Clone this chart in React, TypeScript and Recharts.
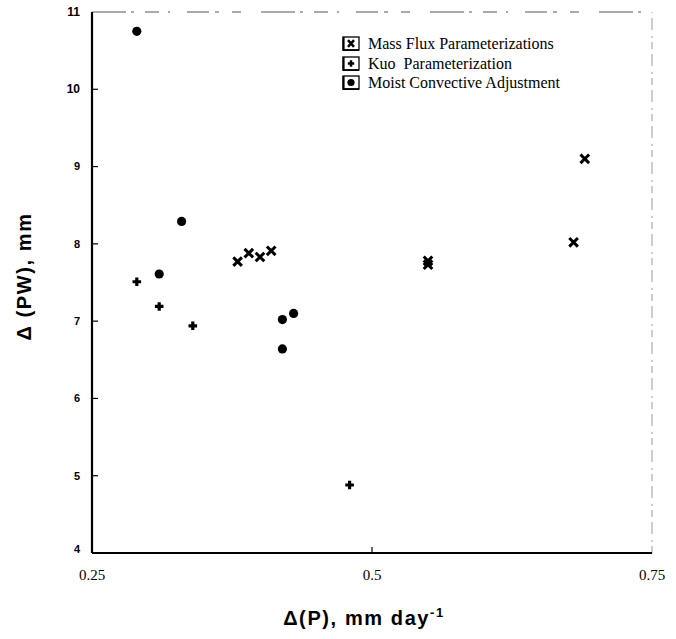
import { ScatterChart, Scatter, XAxis, YAxis, Legend, Label, ReferenceLine } from "recharts";

// Δ(P) in mm/day against Δ(PW) in mm, one pair of arrays per scheme
const massFluxP = [0.38, 0.39, 0.4, 0.41, 0.55, 0.55, 0.68, 0.69];
const massFluxPW = [7.77, 7.88, 7.83, 7.91, 7.78, 7.73, 8.02, 9.1];

const kuoP = [0.29, 0.31, 0.34, 0.48];
const kuoPW = [7.51, 7.19, 6.94, 4.88];

const moistP = [0.29, 0.31, 0.33, 0.42, 0.43, 0.42];
const moistPW = [10.75, 7.61, 8.29, 7.02, 7.1, 6.64];

const xTicks = [0.25, 0.5, 0.75];
const yTicks = [4, 5, 6, 7, 8, 9, 10, 11];

const schemeNames = [
  "Mass Flux Parameterizations",
  "Kuo  Parameterization",
  "Moist Convective Adjustment",
];

const toPoints = (xs: number[], ys: number[]) => xs.map((p, i) => ({ p, pw: ys[i] }));

const massFlux = toPoints(massFluxP, massFluxPW);
const kuo = toPoints(kuoP, kuoPW);
const moist = toPoints(moistP, moistPW);

const SANS = "'Liberation Sans', Arial, Helvetica, sans-serif";
const SERIF = "'Liberation Serif', 'Times New Roman', serif";

function CrossMark({ cx, cy }: any) {
  const s = 4.3;
  return (
    <path
      d={`M${cx - s},${cy - s}L${cx + s},${cy + s}M${cx + s},${cy - s}L${cx - s},${cy + s}`}
      stroke="#000"
      strokeWidth={3}
    />
  );
}

function PlusMark({ cx, cy }: any) {
  const s = 4.3;
  return (
    <path
      d={`M${cx - s},${cy}L${cx + s},${cy}M${cx},${cy - s}L${cx},${cy + s}`}
      stroke="#000"
      strokeWidth={3.2}
    />
  );
}

function DotMark({ cx, cy }: any) {
  return <circle cx={cx} cy={cy} r={4.6} fill="#000" />;
}

// tick text sits 12px left of the axis; the inward tick runs 6px right of it
function YTick({ x, y, payload }: any) {
  const v = payload.value;
  const big = v >= 10;
  return (
    <g>
      {v > 4 && v < 11 && <line x1={x + 12} x2={x + 18} y1={y} y2={y} stroke="#000" strokeWidth={1.2} />}
      <text
        x={x}
        y={v === 4 ? y - 4 : y}
        dy="0.35em"
        textAnchor="end"
        fontFamily={SANS}
        fontWeight="bold"
        fontSize={big ? 12 : 11}
        fill="#000"
      >
        {v}
      </text>
    </g>
  );
}

function XTick({ x, y, payload }: any) {
  const v = payload.value;
  return (
    <g>
      {v === 0.5 && <line x1={x} x2={x} y1={y - 15} y2={y - 21} stroke="#000" strokeWidth={1.2} />}
      <text x={x} y={y} dy="0.8em" textAnchor="middle" fontFamily={SERIF} fontSize={15} fill="#000">
        {v}
      </text>
    </g>
  );
}

function LegendBox({ kind }: { kind: number }) {
  return (
    <svg width={18} height={15} style={{ display: "block" }}>
      <rect x={1} y={1} width={16} height={13} fill="#fff" stroke="#000" strokeWidth={1.3} />
      <path d="M1.6,1 V14.2 H17" stroke="#000" strokeWidth={2} fill="none" />
      {kind === 0 && <path d="M6,4.2L12,10.8M12,4.2L6,10.8" stroke="#000" strokeWidth={2.5} />}
      {kind === 1 && <path d="M5.8,7.5H12.2M9,4.3V10.7" stroke="#000" strokeWidth={2.5} />}
      {kind === 2 && <circle cx={9} cy={7.5} r={3.6} fill="#000" />}
    </svg>
  );
}

function SchemeLegend() {
  return (
    <div style={{ fontFamily: SERIF, fontSize: 16, color: "#000", lineHeight: "19.5px" }}>
      {schemeNames.map((name, i) => (
        <div key={name} style={{ display: "flex", alignItems: "center", height: 19.5 }}>
          <LegendBox kind={i} />
          <span style={{ marginLeft: 8, whiteSpace: "pre" }}>{name}</span>
        </div>
      ))}
    </div>
  );
}

function YTitle({ viewBox }: any) {
  const cx = viewBox.x - 28;
  const cy = viewBox.y + viewBox.height / 2 - 6;
  return (
    <text
      x={cx}
      y={cy}
      transform={`rotate(-90, ${cx}, ${cy})`}
      textAnchor="middle"
      dominantBaseline="central"
      fontFamily={SANS}
      fontWeight="bold"
      fontSize={20}
      letterSpacing={1.6}
      fill="#000"
    >
      Δ (PW), mm
    </text>
  );
}

function XTitle({ viewBox }: any) {
  const cx = viewBox.x + viewBox.width / 2 - 8;
  return (
    <text
      x={cx}
      y={viewBox.y + 72}
      textAnchor="middle"
      fontFamily={SANS}
      fontWeight="bold"
      fontSize={20}
      letterSpacing={1.6}
      fill="#000"
    >
      Δ(P), mm day
      <tspan dy={-8} fontSize={13}>
        -1
      </tspan>
    </text>
  );
}

export default function App() {
  return (
    <div style={{ width: 676, height: 639, background: "#fff" }}>
      <style>{`body{margin:0;background:#fff}`}</style>
      <ScatterChart width={676} height={639} margin={{ top: 12, right: 24, bottom: 46, left: 52 }}>
        <XAxis
          dataKey="p"
          type="number"
          domain={[0.25, 0.75]}
          ticks={xTicks}
          height={40}
          axisLine={{ stroke: "#000", strokeWidth: 2 }}
          tickLine={false}
          tickSize={-6}
          tickMargin={21}
          tick={<XTick />}
          interval={0}
        >
          <Label content={<XTitle />} />
        </XAxis>
        <YAxis
          dataKey="pw"
          type="number"
          domain={[4, 11]}
          ticks={yTicks}
          width={40}
          axisLine={{ stroke: "#000", strokeWidth: 2.2 }}
          tickLine={false}
          tickSize={-6}
          tickMargin={18}
          tick={<YTick />}
          interval={0}
        >
          <Label content={<YTitle />} />
        </YAxis>
        {/* faint, broken frame along the top and right edges */}
        <ReferenceLine
          y={11}
          stroke="#555"
          strokeWidth={1}
          strokeDasharray="34 5 3 11 14 9 2 17 22 6 4 13 9 20"
        />
        <ReferenceLine x={0.75} stroke="#999" strokeWidth={1} strokeDasharray="7 4 2 6 12 5" />
        <Legend
          layout="vertical"
          align="center"
          verticalAlign="middle"
          content={<SchemeLegend />}
          wrapperStyle={{ left: 342, top: 34, width: 280, height: 62 }}
        />
        <Scatter name={schemeNames[0]} data={massFlux} shape={<CrossMark />} isAnimationActive={false} />
        <Scatter name={schemeNames[1]} data={kuo} shape={<PlusMark />} isAnimationActive={false} />
        <Scatter name={schemeNames[2]} data={moist} shape={<DotMark />} isAnimationActive={false} />
      </ScatterChart>
    </div>
  );
}
